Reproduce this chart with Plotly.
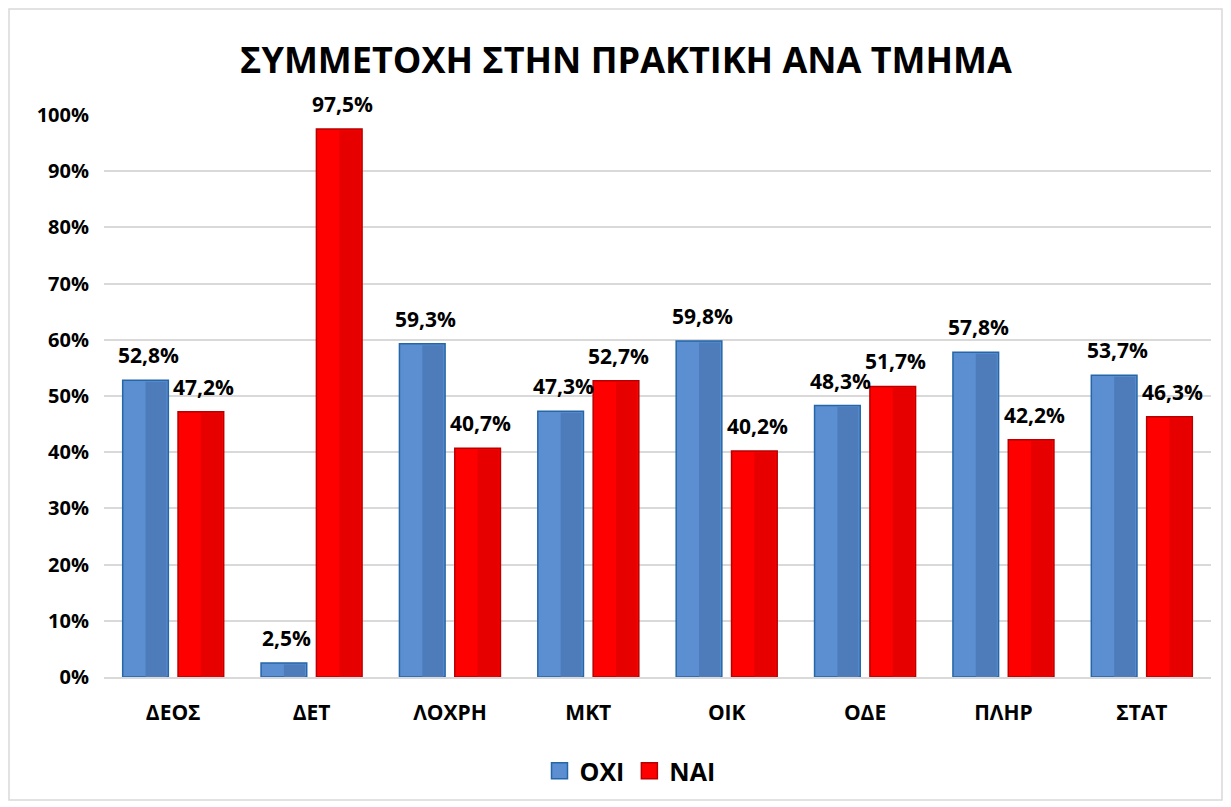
import plotly.graph_objects as go

categories = ["ΔΕΟΣ", "ΔΕΤ", "ΛΟΧΡΗ", "ΜΚΤ", "ΟΙΚ", "ΟΔΕ", "ΠΛΗΡ", "ΣΤΑΤ"]
oxi = [52.8, 2.5, 59.3, 47.3, 59.8, 48.3, 57.8, 53.7]
nai = [47.2, 97.5, 40.7, 52.7, 40.2, 51.7, 42.2, 46.3]
title = "ΣΥΜΜΕΤΟΧΗ ΣΤΗΝ ΠΡΑΚΤΙΚΗ ΑΝΑ ΤΜΗΜΑ"

# page has an 8px body margin; figure coordinates = page coordinates - 8
OFF = 8
W, H = 1231 - OFF, 807 - OFF
L, T = 104 - OFF, 115 - OFF
PW, PH = 1107, 562
R = W - L - PW
B = H - T - PH
CAT_PX = PW / len(categories)

def fmt(v):
    return f"{v:.1f}".replace(".", ",") + "%"

font_family = "Open Sans, Liberation Sans, Arial, sans-serif"
lab_font = dict(size=21, color="black", family=font_family, weight="bold")

BAR_W = 0.33
series = [
    # name, values, offset, main colour, shaded colour, edge colour
    ("ΟΧΙ", oxi, -0.365, "#5B8FD2", "#4E7CBB", "#2466A8"),
    ("ΝΑΙ", nai, 0.035, "#FF0000", "#E60000", "#B80000"),
]

fig = go.Figure()
for name, vals, off, c_main, c_shade, c_edge in series:
    ys = [v / 100 for v in vals]
    fig.add_trace(go.Bar(
        name=name, x=categories, y=ys, offset=off, width=BAR_W, showlegend=False,
        marker=dict(color=c_main, line=dict(color=c_edge, width=1.5)),
        hoverinfo="skip",
    ))
    edge_u = 1.8 / CAT_PX
    edge_y = 1.5 / PH
    fig.add_trace(go.Bar(
        name=name, x=categories, y=[y - edge_y for y in ys],
        offset=off + BAR_W / 2, width=BAR_W / 2 - edge_u, showlegend=False,
        marker=dict(color=c_shade, line=dict(width=0)),
        hoverinfo="skip",
    ))
    for cat, v in zip(categories, vals):
        fig.add_annotation(
            x=cat, y=v / 100, text="<b>" + fmt(v) + "</b>", showarrow=False,
            xshift=(off + BAR_W / 2) * CAT_PX + 3, yshift=9, yanchor="bottom",
            font=lab_font,
        )
    fig.add_trace(go.Scatter(
        name=name, x=[None], y=[None], mode="markers",
        marker=dict(symbol="square", size=20, color=c_main, line=dict(color=c_edge, width=1.5)),
    ))

fig.add_shape(type="rect", xref="paper", yref="paper",
              x0=(9 - 104) / PW, x1=(1222 - 104) / PW,
              y0=(677 - 800) / PH, y1=(677 - 9) / PH,
              line=dict(color="#D9D9D9", width=1.5), layer="below")

fig.update_layout(
    width=W, height=H,
    margin=dict(l=L, r=R, t=T, b=B),
    paper_bgcolor="white", plot_bgcolor="white",
    barmode="overlay",
    title=dict(text="<b>" + title + "</b>", x=(626 - 104) / PW, xref="paper", xanchor="center",
               y=1 - (60 - OFF) / H, yanchor="middle",
               font=dict(size=36, color="black", family=font_family)),
    font=dict(family=font_family, color="black"),
    legend=dict(orientation="h", x=(630 - 104) / PW, xanchor="center",
                y=-(771 - 677) / PH, yanchor="middle",
                font=dict(size=25, color="black", family=font_family, weight="bold"),
                itemwidth=30, traceorder="normal", itemsizing="trace"),
    yaxis=dict(range=[0, 1], tickvals=[i / 10 for i in range(11)],
               ticktext=[f"{i * 10}%" for i in range(11)],
               tickfont=dict(size=20, color="black", family=font_family, weight="bold"),
               gridcolor="#D9D9D9", gridwidth=1.5, zeroline=False, showline=False,
               ticks="", ticklabelstandoff=14),
    xaxis=dict(tickfont=dict(size=21, color="black", family=font_family, weight="bold"),
               showline=True, linecolor="#D9D9D9", linewidth=1.5, ticks="",
               ticklabelstandoff=16, range=[-0.5, 7.5]),
)

fig.write_html("out.html")
